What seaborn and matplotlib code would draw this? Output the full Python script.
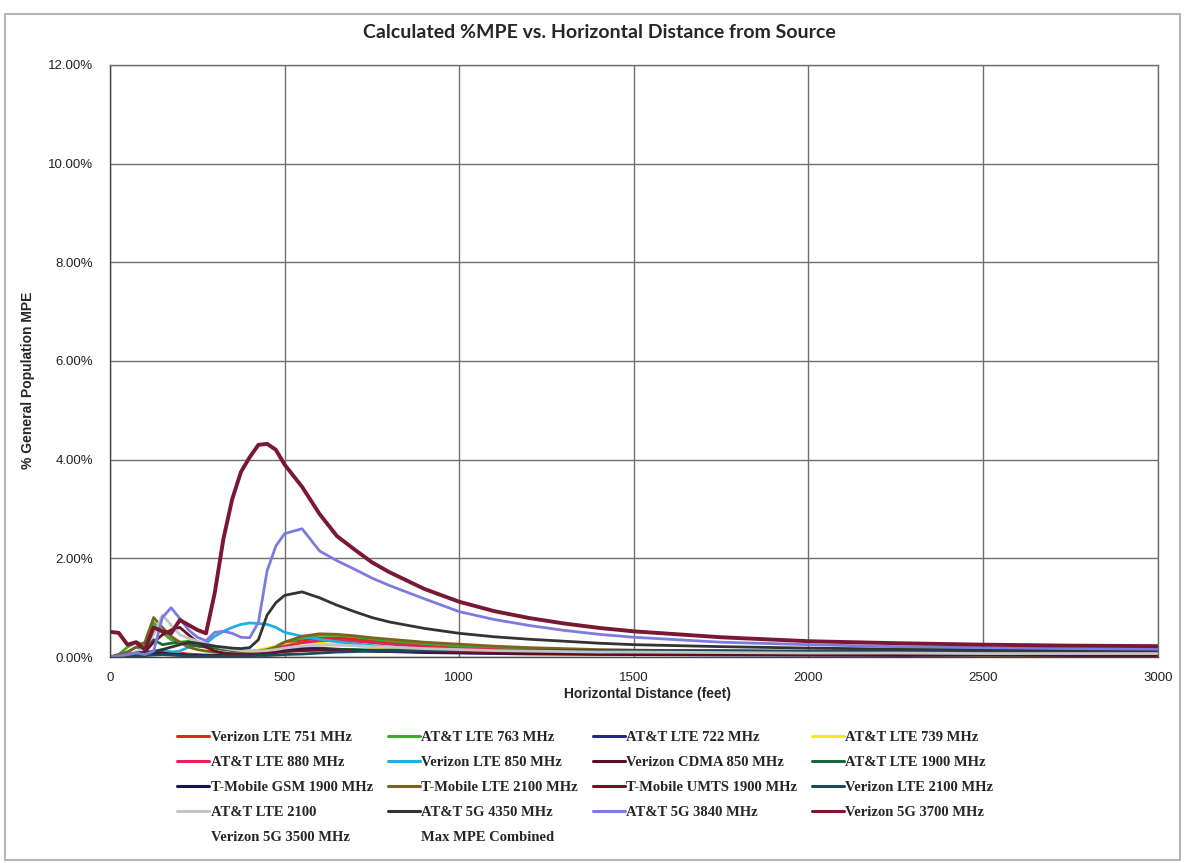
import matplotlib
matplotlib.use("Agg")
import matplotlib.pyplot as plt
from matplotlib.lines import Line2D
from matplotlib.patches import Rectangle
from matplotlib.ticker import FuncFormatter
import numpy as np
import pandas as pd
import seaborn as sns

# ---------------- data ----------------
distance_ft = [0, 25, 50, 75, 100, 125, 150, 175, 200, 225, 250, 275, 300, 325, 350,
               375, 400, 425, 450, 475, 500, 550, 600, 650, 700, 750, 800, 900, 1000,
               1100, 1200, 1300, 1400, 1500, 1750, 2000, 2250, 2500, 2750, 3000]

verizon_lte_751 = [0.00, 0.02, 0.05, 0.05, 0.08, 0.10, 0.12, 0.10, 0.08, 0.06, 0.05, 0.04, 0.04, 0.04, 0.05,
                   0.06, 0.08, 0.11, 0.15, 0.20, 0.27, 0.34, 0.38, 0.39, 0.36, 0.33, 0.30, 0.24, 0.20,
                   0.17, 0.15, 0.13, 0.12, 0.11, 0.09, 0.08, 0.07, 0.06, 0.06, 0.05]
att_lte_763 = [0.00, 0.05, 0.20, 0.30, 0.25, 0.70, 0.50, 0.35, 0.30, 0.32, 0.28, 0.24, 0.20, 0.17, 0.14,
               0.12, 0.12, 0.13, 0.16, 0.22, 0.30, 0.38, 0.44, 0.44, 0.41, 0.37, 0.33, 0.27, 0.22,
               0.19, 0.16, 0.14, 0.13, 0.12, 0.10, 0.09, 0.08, 0.07, 0.07, 0.06]
att_lte_722 = [0.00, 0.01, 0.02, 0.03, 0.04, 0.06, 0.10, 0.08, 0.05, 0.03, 0.02, 0.02, 0.02, 0.02, 0.03,
               0.04, 0.05, 0.07, 0.09, 0.12, 0.15, 0.18, 0.18, 0.16, 0.14, 0.12, 0.11, 0.09, 0.08,
               0.07, 0.06, 0.06, 0.05, 0.05, 0.04, 0.04, 0.03, 0.03, 0.03, 0.03]
att_lte_739 = [0.00, 0.01, 0.02, 0.04, 0.05, 0.08, 0.12, 0.10, 0.06, 0.04, 0.03, 0.03, 0.03, 0.04, 0.05,
               0.07, 0.10, 0.14, 0.18, 0.22, 0.25, 0.28, 0.28, 0.26, 0.23, 0.20, 0.18, 0.14, 0.12,
               0.10, 0.09, 0.08, 0.07, 0.07, 0.06, 0.05, 0.05, 0.04, 0.04, 0.04]
att_lte_880 = [0.00, 0.01, 0.03, 0.04, 0.06, 0.08, 0.10, 0.08, 0.06, 0.05, 0.04, 0.03, 0.03, 0.04, 0.05,
               0.06, 0.08, 0.10, 0.13, 0.17, 0.22, 0.29, 0.33, 0.34, 0.32, 0.29, 0.26, 0.21, 0.17,
               0.15, 0.13, 0.12, 0.11, 0.10, 0.08, 0.07, 0.06, 0.06, 0.05, 0.05]
verizon_lte_850 = [0.00, 0.00, 0.02, 0.05, 0.10, 0.12, 0.15, 0.10, 0.12, 0.20, 0.25, 0.28, 0.42, 0.52, 0.60,
                   0.66, 0.69, 0.68, 0.66, 0.60, 0.50, 0.42, 0.36, 0.31, 0.27, 0.23, 0.20, 0.16, 0.13,
                   0.11, 0.10, 0.09, 0.08, 0.08, 0.07, 0.06, 0.06, 0.05, 0.05, 0.05]
verizon_cdma_850 = [0.00, 0.01, 0.02, 0.03, 0.05, 0.06, 0.08, 0.06, 0.05, 0.04, 0.03, 0.03, 0.03, 0.03, 0.03,
                    0.04, 0.05, 0.06, 0.08, 0.10, 0.12, 0.14, 0.15, 0.15, 0.14, 0.13, 0.12, 0.10, 0.09,
                    0.08, 0.07, 0.06, 0.06, 0.05, 0.05, 0.04, 0.04, 0.04, 0.03, 0.03]
att_lte_1900 = [0.00, 0.03, 0.10, 0.20, 0.18, 0.35, 0.25, 0.28, 0.30, 0.26, 0.22, 0.20, 0.18, 0.15, 0.13,
                0.12, 0.11, 0.11, 0.12, 0.13, 0.14, 0.15, 0.15, 0.15, 0.15, 0.14, 0.14, 0.13, 0.13,
                0.13, 0.12, 0.12, 0.12, 0.12, 0.11, 0.11, 0.10, 0.10, 0.10, 0.10]
tmobile_gsm_1900 = [0.00, 0.01, 0.02, 0.03, 0.04, 0.05, 0.06, 0.05, 0.04, 0.03, 0.03, 0.03, 0.03, 0.03, 0.04,
                    0.05, 0.06, 0.08, 0.10, 0.12, 0.14, 0.15, 0.15, 0.14, 0.13, 0.12, 0.12, 0.11, 0.11,
                    0.11, 0.11, 0.11, 0.11, 0.11, 0.10, 0.10, 0.10, 0.10, 0.09, 0.09]
tmobile_lte_2100 = [0.00, 0.05, 0.10, 0.20, 0.30, 0.80, 0.60, 0.42, 0.30, 0.20, 0.15, 0.12, 0.10, 0.08, 0.07,
                    0.08, 0.10, 0.12, 0.15, 0.20, 0.30, 0.42, 0.47, 0.46, 0.43, 0.39, 0.36, 0.30, 0.26,
                    0.22, 0.19, 0.17, 0.15, 0.14, 0.12, 0.11, 0.10, 0.10, 0.09, 0.09]
tmobile_umts_1900 = [0.00, 0.02, 0.05, 0.08, 0.10, 0.30, 0.45, 0.55, 0.60, 0.45, 0.30, 0.20, 0.12, 0.08, 0.06,
                     0.05, 0.05, 0.06, 0.07, 0.09, 0.11, 0.13, 0.14, 0.14, 0.13, 0.13, 0.12, 0.12, 0.11,
                     0.11, 0.11, 0.10, 0.10, 0.10, 0.10, 0.09, 0.09, 0.09, 0.09, 0.09]
verizon_lte_2100 = [0.00, 0.00, 0.01, 0.02, 0.03, 0.04, 0.05, 0.04, 0.03, 0.02, 0.02, 0.02, 0.02, 0.02, 0.02,
                    0.02, 0.02, 0.03, 0.03, 0.04, 0.05, 0.06, 0.08, 0.10, 0.11, 0.12, 0.12, 0.13, 0.13,
                    0.13, 0.13, 0.13, 0.13, 0.13, 0.13, 0.12, 0.12, 0.12, 0.12, 0.12]
att_lte_2100 = [0.00, 0.02, 0.05, 0.10, 0.20, 0.45, 0.85, 0.65, 0.45, 0.38, 0.32, 0.27, 0.22, 0.18, 0.15,
                0.13, 0.12, 0.12, 0.13, 0.15, 0.18, 0.22, 0.24, 0.24, 0.23, 0.21, 0.20, 0.17, 0.15,
                0.13, 0.12, 0.11, 0.10, 0.10, 0.09, 0.08, 0.08, 0.07, 0.07, 0.07]
att_5g_4350 = [0.00, 0.02, 0.05, 0.08, 0.10, 0.10, 0.15, 0.20, 0.25, 0.30, 0.28, 0.25, 0.22, 0.20, 0.18,
               0.17, 0.19, 0.35, 0.85, 1.10, 1.25, 1.32, 1.20, 1.05, 0.92, 0.80, 0.71, 0.58, 0.48,
               0.41, 0.36, 0.32, 0.28, 0.25, 0.21, 0.18, 0.16, 0.15, 0.14, 0.13]
att_5g_3840 = [0.00, 0.02, 0.05, 0.08, 0.05, 0.12, 0.80, 1.00, 0.78, 0.55, 0.40, 0.33, 0.50, 0.52, 0.48,
               0.40, 0.39, 0.70, 1.75, 2.25, 2.50, 2.60, 2.15, 1.95, 1.78, 1.60, 1.45, 1.18, 0.92,
               0.76, 0.64, 0.54, 0.46, 0.40, 0.30, 0.25, 0.21, 0.19, 0.17, 0.16]
verizon_5g_3700 = [0.51, 0.49, 0.25, 0.30, 0.15, 0.60, 0.52, 0.48, 0.75, 0.65, 0.55, 0.48, 1.30, 2.40, 3.20,
                   3.75, 4.05, 4.30, 4.32, 4.20, 3.90, 3.45, 2.90, 2.45, 2.18, 1.92, 1.72, 1.38, 1.12,
                   0.93, 0.79, 0.68, 0.59, 0.52, 0.40, 0.32, 0.28, 0.25, 0.23, 0.22]

series_names = ["Verizon LTE 751 MHz", "AT&T LTE 763 MHz", "AT&T LTE 722 MHz", "AT&T LTE 739 MHz",
                "AT&T LTE 880 MHz", "Verizon LTE 850 MHz", "Verizon CDMA 850 MHz", "AT&T LTE 1900 MHz",
                "T-Mobile GSM 1900 MHz", "T-Mobile LTE 2100 MHz", "T-Mobile UMTS 1900 MHz", "Verizon LTE 2100 MHz",
                "AT&T LTE 2100", "AT&T 5G 4350 MHz", "AT&T 5G 3840 MHz", "Verizon 5G 3700 MHz"]
series_values = [verizon_lte_751, att_lte_763, att_lte_722, att_lte_739,
                 att_lte_880, verizon_lte_850, verizon_cdma_850, att_lte_1900,
                 tmobile_gsm_1900, tmobile_lte_2100, tmobile_umts_1900, verizon_lte_2100,
                 att_lte_2100, att_5g_4350, att_5g_3840, verizon_5g_3700]
series_colors = ["#e3261c", "#3aae2a", "#1e2a80", "#f3ee10",
                 "#e0245a", "#1faee6", "#5c0c1c", "#19683a",
                 "#141450", "#7a6422", "#6a1226", "#1c4a5a",
                 "#c4c4c4", "#333333", "#7d7ae0", "#7a1834"]
extra_legend = ["Verizon 5G 3500 MHz", "Max MPE Combined"]

x_ticks = [0, 500, 1000, 1500, 2000, 2500, 3000]
y_ticks = [0, 2, 4, 6, 8, 10, 12]

# ---------------- build long table ----------------
frames = []
for name, vals in zip(series_names, series_values):
    frames.append(pd.DataFrame({"distance": distance_ft, "mpe": vals, "series": name}))
df = pd.concat(frames, ignore_index=True)
palette = dict(zip(series_names, series_colors))

sns.set_style("white")
plt.rcParams["font.family"] = ["Liberation Sans", "DejaVu Sans"]

fig = plt.figure(figsize=(11.85, 8.63), dpi=100)
ax = fig.add_axes([0.0928, 0.2387, 0.8842, 0.686])

sns.lineplot(data=df, x="distance", y="mpe", hue="series", hue_order=series_names,
             palette=palette, linewidth=2.0, ax=ax, legend=False, sort=True)
for line, name in zip(ax.get_lines(), series_names):
    if name == "Verizon 5G 3700 MHz":
        line.set_linewidth(2.8)
    line.set_solid_joinstyle("round")

ax.set_xlim(0, 3000)
ax.set_ylim(0, 12)
ax.set_xticks(x_ticks)
ax.set_yticks(y_ticks)
ax.yaxis.set_major_formatter(FuncFormatter(lambda v, p: f"{v:.2f}%"))
ax.tick_params(axis="both", length=0, labelsize=9.5, colors="#222222")
ax.tick_params(axis="x", pad=11)
ax.tick_params(axis="y", pad=12)
ax.grid(True, color="#6e6e6e", linewidth=1.0)
for s in ax.spines.values():
    s.set_color("#6e6e6e")
    s.set_linewidth(1.0)
ax.spines["left"].set_color("#444444")
ax.spines["bottom"].set_color("#444444")

ax.set_xlabel("Horizontal Distance (feet)", fontsize=10, fontweight="bold")
ax.set_ylabel("% General Population MPE", fontsize=10, fontweight="bold")
ax.xaxis.set_label_coords(0.513, -0.05)
ax.yaxis.set_label_coords(-0.0716, 0.468)
fig.text(0.506, 0.962, "Calculated %MPE vs. Horizontal Distance from Source", ha="center", va="center",
         fontsize=14, fontweight="bold", family=["Lato", "DejaVu Sans"])

# ---------------- legend (row-major like the original) ----------------
handles = [Line2D([0], [0], color=c, lw=2.2) for c in series_colors]
handles += [Line2D([0], [0], color="none", lw=2.2) for _ in extra_legend]
labels = series_names + extra_legend
order = [0, 4, 8, 12, 16, 1, 5, 9, 13, 17, 2, 6, 10, 14, 3, 7, 11, 15]
fig.legend([handles[i] for i in order], [labels[i] for i in order], loc="upper center",
           bbox_to_anchor=(0.494, 0.168), ncol=4, frameon=False, handlelength=2.2,
           handletextpad=0.1, columnspacing=1.0, labelspacing=0.8,
           prop={"family": ["Liberation Serif", "DejaVu Serif"], "size": 10.5, "weight": "bold"})

# scan frame
fig.patches.append(Rectangle((0.004, 0.004), 0.992, 0.98, transform=fig.transFigure,
                             fill=False, edgecolor="#b5b5b5", linewidth=1.5))

fig.savefig("out.png", dpi=100)
